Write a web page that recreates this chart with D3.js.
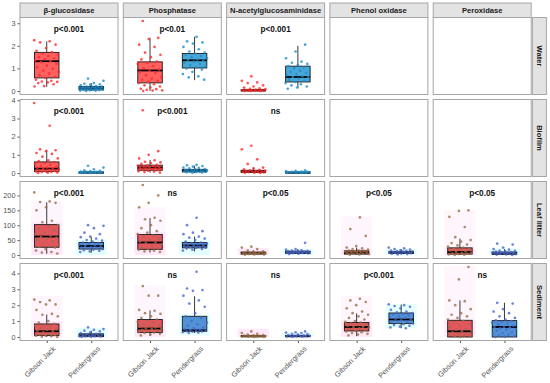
<!DOCTYPE html>
<html>
<head>
<meta charset="utf-8">
<script src="https://cdn.jsdelivr.net/npm/d3@7"></script>
<style>
  body { margin: 0; background: #fff; }
  text { font-family: "Liberation Sans", Arial, sans-serif; }
</style>
</head>
<body>
<svg id="chart" width="550" height="383"></svg>
<script>
const enzymes = ["β-glucosidase", "Phosphatase", "N-acetylglucosaminidase", "Phenol oxidase", "Peroxidase"];
const habitats = ["Water", "Biofilm", "Leaf litter", "Sediment"];
const sites = ["Gibson Jack", "Pendergrass"];

const yTicks = [[0, 1, 2, 3], [0, 1, 2, 3, 4], [0, 50, 100, 150, 200], [0, 1, 2, 3, 4]];

const pLabels = [
  ["p<0.001", "p<0.01", "p<0.001", null, null],
  ["p<0.001", "p<0.001", "ns", null, null],
  ["p<0.001", "ns", "p<0.05", "p<0.05", "p<0.05"],
  ["p<0.001", "ns", "ns", "p<0.001", "ns"]
];

// points per habitat row, one list per enzyme (null = no data)
const waterGJ = [
  [2.25,2.2,2.15,2.05,1.9,1.78,1.72,1.65,1.6,1.55,1.5,1.45,1.4,1.35,1.32,1.28,1.2,1.12,1.05,0.98,0.9,0.85,0.78,0.7,0.62,0.58,0.5,0.45,0.42,0.4,0.38,0.35,0.3,0.22,0.2],
  [3.1,2.35,2.3,2.05,1.95,1.7,1.6,1.5,1.4,1.3,1.25,1.2,1.1,1.0,0.95,0.9,0.85,0.8,0.7,0.6,0.55,0.5,0.45,0.4,0.35,0.3,0.25,0.2,0.15,0.1,0.08,0.05,0.03,0.02,0.0],
  [0.65,0.45,0.38,0.35,0.25,0.2,0.15,0.12,0.1,0.08,0.06,0.05,0.04,0.03,0.03,0.02,0.02,0.01,0.01,0.0,0.0,0.0],
  null, null
];
const waterPG = [
  [0.55,0.45,0.35,0.32,0.3,0.28,0.25,0.22,0.2,0.19,0.18,0.17,0.16,0.15,0.14,0.13,0.12,0.11,0.1,0.09,0.08,0.07,0.06,0.05,0.05,0.04,0.03,0.02,0.01,0.0],
  [2.4,2.2,2.15,2.1,1.95,1.85,1.75,1.7,1.65,1.6,1.55,1.5,1.45,1.4,1.38,1.35,1.3,1.25,1.2,1.15,1.1,1.05,1.0,0.95,0.85,0.75,0.65,0.6,0.5],
  [2.05,1.75,1.45,1.3,1.25,1.2,1.15,1.1,1.05,1.0,0.95,0.9,0.85,0.8,0.75,0.7,0.65,0.62,0.6,0.55,0.5,0.45,0.4,0.35,0.3,0.25,0.2,0.15,0.1],
  null, null
];
const biofilmGJ = [
  [3.85,2.6,1.3,1.25,1.2,1.1,1.05,0.9,0.8,0.7,0.65,0.6,0.55,0.5,0.45,0.4,0.35,0.3,0.28,0.25,0.22,0.2,0.18,0.15,0.12,0.1,0.08,0.06,0.05,0.03,0.02,0.0],
  [3.45,1.2,1.0,0.8,0.7,0.62,0.58,0.55,0.5,0.45,0.42,0.4,0.38,0.35,0.32,0.3,0.28,0.26,0.25,0.22,0.2,0.18,0.15,0.12,0.1,0.08,0.05,0.02],
  [1.5,1.3,0.75,0.5,0.3,0.25,0.2,0.18,0.15,0.12,0.1,0.09,0.08,0.07,0.06,0.05,0.04,0.03,0.02,0.01,0.0],
  null, null
];
const biofilmPG = [
  [0.4,0.3,0.2,0.15,0.12,0.1,0.08,0.07,0.06,0.05,0.04,0.04,0.03,0.03,0.02,0.02,0.01,0.01,0.0,0.0],
  [0.45,0.42,0.38,0.35,0.3,0.28,0.25,0.22,0.2,0.18,0.16,0.15,0.14,0.13,0.12,0.11,0.1,0.09,0.08,0.07,0.06,0.05,0.04,0.03,0.02],
  [0.15,0.12,0.1,0.08,0.07,0.06,0.05,0.04,0.04,0.03,0.03,0.02,0.02,0.01,0.01,0.0,0.0],
  null, null
];
const leafGJ = [
  [210,180,178,175,160,150,115,110,100,95,88,82,75,70,65,60,58,55,50,45,40,35,30,28,25,20,15,10,8,5],
  [235,200,175,160,125,120,115,100,90,80,75,70,65,60,55,50,45,42,40,35,30,25,22,20,18,15,12,10],
  [28,25,20,15,12,10,9,8,7,6,6,5,5,4,4,3,3,2,2,1],
  [126,87,64,30,25,22,20,18,16,15,14,12,11,10,9,8,7,6,5,4,3,2,1],
  [150,148,128,94,60,50,45,40,35,32,28,25,22,20,18,15,12,10,8,6,5,4,3,2,1,0]
];
const leafPG = [
  [100,98,90,75,70,62,60,55,50,48,45,42,40,38,35,32,30,28,26,25,24,22,20,18,16,14,12,10],
  [125,100,80,75,70,62,58,55,50,45,42,40,38,36,35,33,32,30,28,26,25,24,22,20,18,15],
  [41,20,18,16,15,14,13,12,11,10,10,9,9,8,8,7,7,6,5,4,3],
  [25,22,20,18,16,15,14,13,12,11,10,9,9,8,8,7,6,5,4,3,2],
  [38,35,25,20,18,15,14,12,11,10,9,8,7,6,6,5,5,4,4,3,2,1,0]
];
const sedimentGJ = [
  [2.35,2.3,2.2,2.05,2.05,1.7,1.45,1.4,1.3,1.0,0.9,0.82,0.75,0.7,0.6,0.55,0.5,0.45,0.4,0.36,0.3,0.25,0.2,0.15,0.12,0.1,0.08,0.05,0.02,0.0],
  [3.2,2.6,2.6,1.7,1.65,1.5,1.45,1.3,1.2,1.1,1.0,0.95,0.9,0.8,0.75,0.7,0.65,0.6,0.55,0.53,0.5,0.45,0.4,0.35,0.3,0.28,0.25,0.2,0.15,0.1],
  [0.35,0.25,0.2,0.15,0.12,0.1,0.09,0.08,0.07,0.06,0.05,0.05,0.04,0.03,0.03,0.02,0.02,0.01,0.0],
  [2.4,2.3,2.2,2.0,1.8,1.6,1.5,1.4,1.3,1.2,1.1,1.0,0.95,0.9,0.85,0.8,0.75,0.7,0.65,0.63,0.6,0.55,0.5,0.45,0.4,0.35,0.3,0.25,0.2,0.15,0.1],
  [4.4,3.62,2.3,2.25,2.0,1.75,1.5,1.4,1.3,1.2,1.1,1.0,0.9,0.8,0.7,0.6,0.5,0.45,0.4,0.36,0.3,0.25,0.2,0.15,0.1,0.05,0.02,0.0]
];
const sedimentPG = [
  [0.6,0.5,0.45,0.4,0.35,0.3,0.25,0.2,0.18,0.15,0.12,0.1,0.09,0.08,0.06,0.05,0.04,0.03,0.02,0.01],
  [4.1,3.05,2.95,2.9,2.6,2.3,2.1,1.9,1.5,1.3,1.2,1.0,0.9,0.8,0.7,0.6,0.55,0.5,0.45,0.42,0.4,0.38,0.36,0.35,0.33,0.3,0.28,0.25],
  [0.35,0.3,0.28,0.25,0.2,0.18,0.15,0.12,0.1,0.09,0.08,0.07,0.06,0.05,0.04,0.03,0.02,0.01],
  [2.05,2.0,1.95,1.9,1.8,1.7,1.6,1.55,1.5,1.45,1.4,1.35,1.3,1.25,1.2,1.15,1.1,1.05,1.0,0.95,0.9,0.85,0.8,0.75,0.7,0.65,0.6,0.55],
  [2.15,2.1,1.75,1.6,1.5,1.3,1.2,1.1,1.05,1.0,0.95,0.9,0.85,0.8,0.7,0.65,0.63,0.6,0.55,0.5,0.45,0.4,0.3,0.25,0.2,0.15,0.1,0.05,0.02,0]
];

// box stats [lower whisker, q1, median, q3, upper whisker]
const waterBoxGJ = [[0.18,0.58,1.32,1.71,2.2],[0,0.36,0.91,1.29,2.36],[0,0.01,0.03,0.05,0.1],null,null];
const waterBoxPG = [[0,0.05,0.12,0.2,0.35],[0.48,1.02,1.36,1.66,2.4],[0.15,0.4,0.62,1.1,2.0],null,null];
const biofilmBoxGJ = [[0,0.09,0.24,0.61,1.28],[0.02,0.15,0.3,0.43,0.72],[0,0.03,0.08,0.15,0.3],null,null];
const biofilmBoxPG = [[0,0.01,0.03,0.05,0.1],[0,0.06,0.12,0.2,0.4],[0,0.01,0.02,0.05,0.1],null,null];
const leafBoxGJ = [[4,26,62,102,177],[8,19,42,69,124],[1,3,6,10,16],[1,3,8,14,25],[0,3,10,24,55]];
const leafBoxPG = [[8,20,30,42,60],[12,24,32,42,62],[2,5,9,13,20],[2,5,8,12,20],[0,2,5,10,20]];
const sedimentBoxGJ = [[0,0.1,0.36,0.82,1.41],[0.08,0.28,0.53,1.1,1.67],[0,0.02,0.05,0.08,0.15],[0.05,0.38,0.63,0.91,1.48],[0,0,0.36,1.05,2.3]];
const sedimentBoxPG = [[0,0.02,0.1,0.2,0.4],[0.25,0.36,0.42,1.3,2.56],[0,0.02,0.05,0.1,0.2],[0.55,0.84,1.1,1.51,2.04],[0,0,0.63,1.03,2.15]];

// faint background bands in leaf litter / sediment [low, mid, high]
const leafBandGJ = [[0,110,180],[0,78,160],[0,22,24],[0,20,130],[0,25,150]];
const leafBandPG = [[0,50,55],[0,50,60],[0,20,22],[0,20,22],[0,22,25]];
const sedimentBandGJ = [[0,1.0,2.6],[0,1.05,3.25],[0,0.5,0.55],[0,1.05,2.6],[0,1.05,4.5]];
const sedimentBandPG = [[0,0.55,0.6],[0.1,1.4,1.5],[0,0.25,0.3],[0.55,2.05,2.05],[0,1.05,1.05]];

const rowPoints = [[waterGJ, waterPG], [biofilmGJ, biofilmPG], [leafGJ, leafPG], [sedimentGJ, sedimentPG]];
const rowBoxes = [[waterBoxGJ, waterBoxPG], [biofilmBoxGJ, biofilmBoxPG], [leafBoxGJ, leafBoxPG], [sedimentBoxGJ, sedimentBoxPG]];
const rowBands = [null, null, [leafBandGJ, leafBandPG], [sedimentBandGJ, sedimentBandPG]];

const svg = d3.select("#chart");

const left = 20, panelW = 98, colStep = 103.3;
const stripTop = 3, stripH = 14.5;
const top0 = 17.5, panelH = 77, rowStep = 82;
const borderCol = "#a6a6a6", stripFill = "#e3e3e3";
const tickCol = "#555";

const x = d3.scalePoint().domain(sites).range([0, panelW]).padding(0.6);
const step = x.step();

const fillCol = ["#ff5454", "#3a9fd4"];
const pointTop = ["#ff2a2a", "#1f8fca"];
const pointBottom = ["#9b7148", "#4d68cc"];
const boxBottom = ["#e2484f", "#4389d2"];
const bandCol = ["#ff66dd", "#44ffff"];

// column strips
enzymes.forEach((e, c) => {
  const gx = left + c * colStep;
  svg.append("rect").attr("x", gx).attr("y", stripTop).attr("width", panelW).attr("height", stripH)
    .attr("fill", stripFill).attr("stroke", borderCol).attr("stroke-width", 1);
  svg.append("text").attr("x", gx + panelW / 2).attr("y", stripTop + stripH / 2 + 2.7)
    .attr("text-anchor", "middle").attr("font-size", 7.6).attr("font-weight", "bold").attr("fill", "#1a1a1a")
    .text(e);
});

habitats.forEach((h, r) => {
  const gy = top0 + r * rowStep;
  const allVals = rowPoints[r].flatMap(s => s.filter(d => d).flat())
    .concat(rowBoxes[r].flatMap(s => s.filter(d => d).flat()));
  const lo = d3.min(allVals), hi = d3.max(allVals);
  const pad = (hi - lo) * 0.05;
  const y = d3.scaleLinear().domain([lo - pad, hi + pad]).range([panelH, 0]);

  // row strip on right
  const sx = left + 4 * colStep + panelW + 1.2;
  svg.append("rect").attr("x", sx).attr("y", gy).attr("width", 14).attr("height", panelH)
    .attr("fill", stripFill).attr("stroke", borderCol).attr("stroke-width", 1);
  svg.append("text").attr("transform", `translate(${sx + 7 - 2.7},${gy + panelH / 2}) rotate(90)`)
    .attr("text-anchor", "middle").attr("font-size", 7.6).attr("font-weight", "bold").attr("fill", "#1a1a1a")
    .text(h);

  enzymes.forEach((e, c) => {
    const gx = left + c * colStep;
    const g = svg.append("g").attr("transform", `translate(${gx},${gy})`);
    g.append("rect").attr("width", panelW).attr("height", panelH).attr("fill", "#fff");

    if (c === 0) {
      const ax = g.append("g").call(d3.axisLeft(y).tickValues(yTicks[r]).tickFormat(d3.format("~g")).tickSize(2.5).tickPadding(2));
      ax.select(".domain").remove();
      ax.selectAll("line").attr("stroke", tickCol);
      ax.selectAll("text").attr("font-size", 7.3).attr("fill", tickCol).attr("font-family", "Liberation Sans, Arial, sans-serif");
    }
    if (r === habitats.length - 1) {
      const ax = g.append("g").attr("transform", `translate(0,${panelH})`)
        .call(d3.axisBottom(x).tickSize(2.5).tickPadding(2));
      ax.select(".domain").remove();
      ax.selectAll("line").attr("stroke", tickCol);
      ax.selectAll("text").attr("font-size", 7.3).attr("fill", tickCol).attr("font-family", "Liberation Sans, Arial, sans-serif")
        .attr("text-anchor", "end").attr("dy", "0.3em")
        .attr("transform", "translate(4,4) rotate(-45)");
    }

    const marks = g.append("g");

    sites.forEach((s, k) => {
      const pts = rowPoints[r][k][c];
      const box = rowBoxes[r][k][c];
      if (!pts) return;
      const cx = x(s);
      const bottomRows = r >= 2;

      if (rowBands[r]) {
        const b = rowBands[r][k][c];
        const bw = step * 0.7;
        marks.append("rect").attr("x", cx - bw / 2).attr("width", bw)
          .attr("y", y(b[2])).attr("height", y(b[0]) - y(b[2]))
          .attr("fill", bandCol[k]).attr("opacity", 0.06);
        marks.append("rect").attr("x", cx - bw / 2).attr("width", bw)
          .attr("y", y(b[1])).attr("height", y(b[0]) - y(b[1]))
          .attr("fill", bandCol[k]).attr("opacity", 0.09);
      }

      const bw = step * 0.55;
      marks.append("line").attr("x1", cx).attr("x2", cx).attr("y1", y(box[4])).attr("y2", y(box[3]))
        .attr("stroke", "#222").attr("stroke-width", 0.9);
      marks.append("line").attr("x1", cx).attr("x2", cx).attr("y1", y(box[1])).attr("y2", y(box[0]))
        .attr("stroke", "#222").attr("stroke-width", 0.9);
      marks.append("rect").attr("x", cx - bw / 2).attr("width", bw)
        .attr("y", y(box[3])).attr("height", Math.max(1, y(box[1]) - y(box[3])))
        .attr("fill", bottomRows ? boxBottom[k] : fillCol[k]).attr("fill-opacity", 0.92)
        .attr("stroke", "#1a1a1a").attr("stroke-width", 0.9);
      marks.append("line").attr("x1", cx - bw / 2).attr("x2", cx + bw / 2)
        .attr("y1", y(box[2])).attr("y2", y(box[2]))
        .attr("stroke", "#000").attr("stroke-width", 1.8);

      marks.selectAll(null).data(pts).enter().append("circle")
        .attr("cx", (d, i) => cx + (((i * 0.618034 + k * 0.37 + c * 0.21) % 1) - 0.5) * step * 0.56)
        .attr("cy", d => y(d))
        .attr("r", 1.35)
        .attr("fill", bottomRows ? pointBottom[k] : pointTop[k])
        .attr("opacity", 0.8);
    });

    if (pLabels[r][c]) {
      g.append("text").attr("x", panelW / 2).attr("y", 14.8).attr("text-anchor", "middle")
        .attr("font-size", 8.2).attr("font-weight", "bold").attr("fill", "#111")
        .text(pLabels[r][c]);
    }

    g.append("rect").attr("width", panelW).attr("height", panelH)
      .attr("fill", "none").attr("stroke", borderCol).attr("stroke-width", 1);
  });
});
</script>
</body>
</html>
